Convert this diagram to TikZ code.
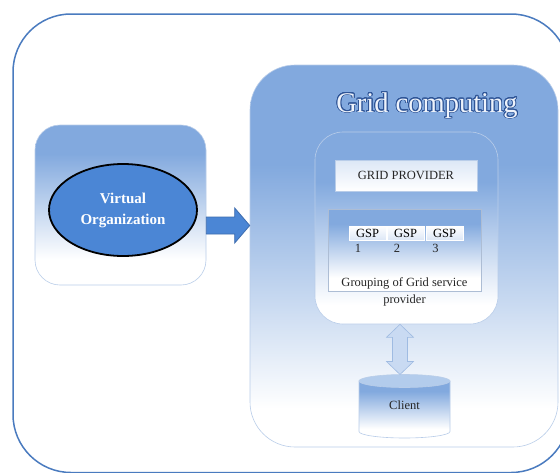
\documentclass[tikz,border=0pt]{standalone}
\usepackage{fontspec}
\setmainfont{Liberation Serif}
\usepackage[copies]{contour}
\usetikzlibrary{calc,shapes.geometric}

\definecolor{outerblue}{HTML}{4A7BBF}
\definecolor{boxtop}{HTML}{82A9DE}
\definecolor{boxline}{HTML}{B9CDE9}
\definecolor{voblue}{HTML}{4B86D5}
\definecolor{arrowline}{HTML}{3E6DAF}
\definecolor{titleblue}{HTML}{2F5597}
\definecolor{titlefill}{HTML}{EEF3FB}
\definecolor{paleblue}{HTML}{DCE7F6}
\definecolor{cyltop}{HTML}{B3CCEC}
\definecolor{darrow}{HTML}{C9DAF2}
\definecolor{darrowline}{HTML}{9FBBE2}

\pgfdeclareverticalshading{fadebox}{100bp}{color(0bp)=(white); color(30bp)=(white); color(62bp)=(boxtop); color(100bp)=(boxtop)}
\pgfdeclareverticalshading{fadeshort}{100bp}{color(0bp)=(white); color(33bp)=(white); color(66bp)=(boxtop); color(100bp)=(boxtop)}

\contourlength{0.85pt}
\contournumber{24}

\tikzset{
  panel/.style={shade, shading=fadebox, draw=boxline, line width=0.6pt, inner sep=0pt},
  flatbox/.style={shade, top color=paleblue, bottom color=white, draw=boxline, line width=0.5pt, inner sep=0pt},
  gspbox/.style={shade, top color=white, bottom color=paleblue, draw=white, line width=0.4pt, inner sep=0pt, minimum width=37pt, minimum height=14pt, font=\fontsize{12.5}{14}\selectfont},
  lbl/.style={inner sep=0pt, font=\fontsize{12.5}{17}\selectfont, text=black!85},
}

\begin{document}
\begin{tikzpicture}[x=1pt,y=-1pt]
\useasboundingbox (0,0) rectangle (560,472);
\clip (0,0) rectangle (560,472);
\fill[white] (0,0) rectangle (560,472);

% outer frame
\node[draw=outerblue, line width=1.5pt, rounded corners=58pt, minimum width=556pt, minimum height=458.5pt, inner sep=0pt] (outer) at (291,243.25) {};

% grid computing panel
\node[panel, rounded corners=45pt, minimum width=308pt, minimum height=382pt] (grid) at (404,256) {};

% virtual organization panel
\node[panel, shading=fadeshort, rounded corners=25pt, minimum width=171pt, minimum height=160pt] (lbox) at (120.5,205) {};
\node[ellipse, draw=black, line width=1.8pt, fill=voblue, minimum width=148pt, minimum height=92pt, inner sep=0pt, align=center, text=white, font=\bfseries\fontsize{15}{21}\selectfont] (vo) at (123,210) {Virtual\\Organization};

% block arrow
\coordinate (aS) at ($(lbox.east)+(0,20.5)$);
\coordinate (aE) at (grid.west |- aS);
\draw[fill=voblue, draw=arrowline, line width=0.8pt, line join=miter]
  ($(aS)+(0,-8.5)$) -- ($(aE)+(-15,-8.5)$) -- ($(aE)+(-15,-17.5)$) -- (aE)
  -- ($(aE)+(-15,17.5)$) -- ($(aE)+(-15,8.5)$) -- ($(aS)+(0,8.5)$) -- cycle;

% title
\node[anchor=base, inner sep=0pt, text=titlefill, font=\fontsize{28.5}{30}\selectfont] (title) at (427,112) {\contour{titleblue}{Grid computing}};

% inner provider box
\node[panel, rounded corners=28pt, minimum width=183pt, minimum height=192pt] (ibox) at (406.5,228) {};
\node[flatbox, minimum width=142pt, minimum height=31pt, lbl] (gp) at (406,175.5) {GRID PROVIDER};

% grouping box
\node[panel, shading=fadeshort, draw=boxline!80!gray, rounded corners=0pt, minimum width=153pt, minimum height=82pt] (grp) at (404.5,250) {};
\node[gspbox] (g1) at (367.5,233) {GSP};
\node[gspbox] (g2) at (405.5,233) {GSP};
\node[gspbox] (g3) at (444.5,233) {GSP};
\node[lbl] (n1) at (358,248) {1};
\node[lbl] (n2) at (397,248) {2};
\node[lbl] (n3) at (435.5,248) {3};
\node[lbl, align=center] (gtext) at (404.5,291.5) {Grouping of Grid service\\provider};

% client cylinder
\shade[shading=fadeshort, draw=boxline, line width=0.6pt]
  (359,381) -- (359,431.5) arc[start angle=180, end angle=0, x radius=45.5, y radius=6.5] -- (450,381) -- cycle;
\filldraw[fill=cyltop, draw=boxline, line width=0.6pt] (404.5,381) ellipse[x radius=45.5, y radius=6.5];
\node[lbl] (client) at (404.5,405) {Client};

% double arrow
\coordinate (dT) at ($(ibox.south)+(-6.5,0)$);
\coordinate (dB) at ($(client.center)+(-4.5,-30.5)$);
\draw[fill=darrow, draw=darrowline, line width=0.6pt, line join=miter]
  (dT) -- ($(dT)+(13.5,13)$) -- ($(dT)+(7.5,13)$) -- ($(dB)+(7.5,-13)$) -- ($(dB)+(13.5,-13)$) -- (dB)
  -- ($(dB)+(-13.5,-13)$) -- ($(dB)+(-7.5,-13)$) -- ($(dT)+(-7.5,13)$) -- ($(dT)+(-13.5,13)$) -- cycle;
\end{tikzpicture}
\end{document}
